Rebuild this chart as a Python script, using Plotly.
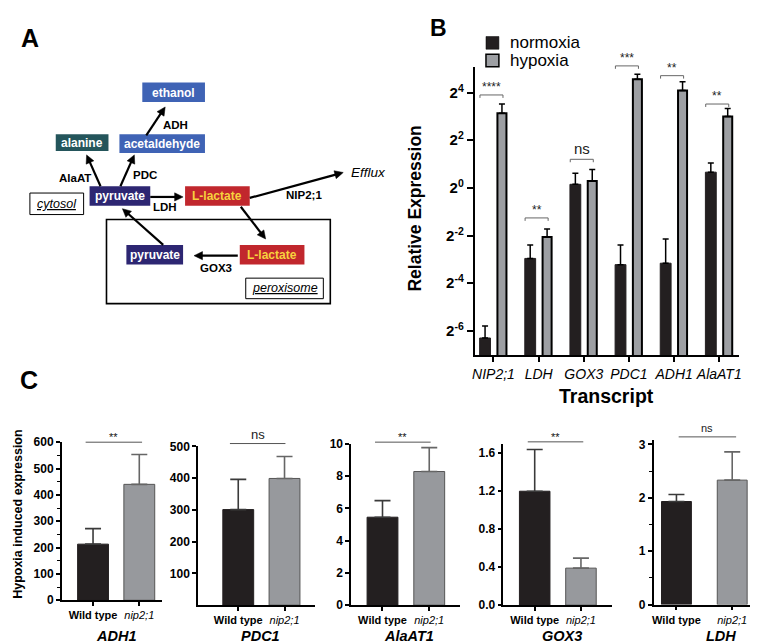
import numpy as np
import plotly.graph_objects as go

W, H = 758, 643
FONT = "Liberation Sans, Arial, Helvetica, sans-serif"

# ---------------- Panel B data (log2 relative expression) ----------------
transcripts = ["NIP2;1", "LDH", "GOX3", "PDC1", "ADH1", "AlaAT1"]
normoxia_log2 = [-6.30, -2.96, 0.15, -3.22, -3.16, 0.66]
normoxia_err_top_log2 = [-5.80, -2.40, 0.61, -2.40, -2.14, 1.04]
hypoxia_log2 = [3.13, -2.06, 0.29, 4.56, 4.09, 3.00]
hypoxia_err_top_log2 = [3.52, -1.72, 0.77, 4.77, 4.45, 3.33]
b_sig_labels = ["****", "**", "ns", "***", "**", "**"]
b_sig_level_log2 = [3.90, -1.26, 1.20, 5.12, 4.71, 3.52]
b_tick_exponents = [-6, -4, -2, 0, 2, 4]
b_series = ["normoxia", "hypoxia"]

# ---------------- Panel C data ----------------
genotypes = ["Wild type", "nip2;1"]
c_genes = ["ADH1", "PDC1", "AlaAT1", "GOX3", "LDH"]
wt_mean = [213, 301, 5.45, 1.20, 1.93]
wt_err = [59, 95, 1.03, 0.44, 0.13]
nip_mean = [440, 399, 8.28, 0.39, 2.33]
nip_err = [113, 69, 1.48, 0.105, 0.53]
c_sig = ["**", "ns", "**", "**", "ns"]
c_sig_level = [600, 509, 10.1, 1.72, 3.14]

# ---------------- helpers ----------------
def px(x):
    return x / W


def py(y):
    return 1 - y / H


def dom_x(x0, x1):
    return [x0 / W, x1 / W]


def dom_y(ytop, ybot):
    return [1 - ybot / H, 1 - ytop / H]


shapes = []
annotations = []


def txt(x, y, s, size=12, color="black", bold=False, italic=False, xanchor="center",
        yanchor="middle", angle=0):
    annotations.append(dict(
        x=px(x), y=py(y), xref="paper", yref="paper", text=s, showarrow=False,
        xanchor=xanchor, yanchor=yanchor, textangle=angle,
        font=dict(family=FONT, size=size, color=color,
                  weight="bold" if bold else "normal",
                  style="italic" if italic else "normal")))


def arrow(tx, ty, hx, hy, head_len=8.5, head_half=4.2, width=2.2):
    d = np.array([hx - tx, hy - ty], dtype=float)
    L = np.hypot(*d)
    u = d / L
    n = np.array([-u[1], u[0]])
    bx, by = hx - u[0] * head_len, hy - u[1] * head_len
    shapes.append(dict(type="line", xref="paper", yref="paper",
                       x0=px(tx), y0=py(ty), x1=px(bx + u[0] * 1.5), y1=py(by + u[1] * 1.5),
                       line=dict(color="black", width=width)))
    p1 = (bx + n[0] * head_half, by + n[1] * head_half)
    p2 = (bx - n[0] * head_half, by - n[1] * head_half)
    shapes.append(dict(type="path", xref="paper", yref="paper",
                       path=f"M {px(hx)},{py(hy)} L {px(p1[0])},{py(p1[1])} L {px(p2[0])},{py(p2[1])} Z",
                       fillcolor="black", line=dict(color="black", width=0.5)))


# ---------------- Panel A: pathway diagram ----------------
BLUE, TEAL, INDIGO, RED, YELLOW = "#3f63b5", "#24555b", "#2d2672", "#c1272d", "#f7d23e"
boxes = [
    ("ethanol", 133, 69, 196, 89, BLUE, "white"),
    ("alanine", 46, 122, 99, 139, TEAL, "white"),
    ("acetaldehyde", 110, 122, 196, 141, BLUE, "white"),
    ("pyruvate", 80, 175, 141, 195, INDIGO, "white"),
    ("L-lactate", 176, 175, 241, 195, RED, YELLOW),
    ("pyruvate", 117, 235, 174, 255, INDIGO, "white"),
    ("L-lactate", 231, 235, 296, 255, RED, YELLOW),
]
# peroxisome compartment
shapes.append(dict(type="rect", xref="paper", yref="paper", x0=px(97), x1=px(322),
                   y0=py(295), y1=py(209), line=dict(color="black", width=1.6)))
for name, x0, y0, x1, y1, fill, tc in boxes:
    shapes.append(dict(type="rect", xref="paper", yref="paper", x0=px(x0), x1=px(x1),
                       y0=py(y1), y1=py(y0), fillcolor=fill, line=dict(width=0)))
    txt((x0 + x1) / 2, (y0 + y1) / 2 + 0.5, name, size=12, color=tc, bold=True)
for name, x0, y0, x1, y1 in [("cytosol", 20, 182, 74, 204), ("peroxisome", 237, 269, 315, 290)]:
    shapes.append(dict(type="rect", xref="paper", yref="paper", x0=px(x0), x1=px(x1),
                       y0=py(y1), y1=py(y0), fillcolor="white", line=dict(color="black", width=1)))
    txt((x0 + x1) / 2, (y0 + y1) / 2, "<u>" + name + "</u>", size=12.5, italic=True)

arrows = [((137, 123), (156, 94)), ((91, 175), (77, 143)), ((111, 175), (125, 143)),
          ((141, 186), (174, 186)), ((241, 187), (335, 161)), ((232, 196), (257, 229)),
          ((154, 235), (113, 198)), ((229, 246), (185, 246))]
for (tx, ty), (hx, hy) in arrows:
    arrow(tx, ty, hx, hy)
for s, x, y in [("ADH", 166, 112), ("AlaAT", 65, 167), ("PDC", 136, 164), ("LDH", 156, 196),
                ("NIP2;1", 296, 184), ("GOX3", 207, 259)]:
    txt(x, y, s, size=11.5, bold=True)
txt(341, 161, "Efflux", size=13.5, italic=True, xanchor="left")

# panel letters
txt(20, 24, "A", size=25, bold=True)
txt(431, 13, "B", size=23, bold=True)
txt(19, 373, "C", size=25, bold=True)

# ---------------- Panel B ----------------
B_X0, B_X1, B_Y0, B_Y1 = 467, 733, 53, 348
b_xr = [-0.42, 5.44]
b_lr = [-7.03, 5.08]  # log2 range
L2 = np.log10(2)
B_FILL = ["#231f20", "#9d9fa3"]
B_LINE = ["#231f20", "black"]


def b_px(i):
    return B_X0 + (i - b_xr[0]) / (b_xr[1] - b_xr[0]) * (B_X1 - B_X0)


def b_py(l2):
    return B_Y1 - (l2 - b_lr[0]) / (b_lr[1] - b_lr[0]) * (B_Y1 - B_Y0)


norm_v = np.power(2.0, normoxia_log2)
hyp_v = np.power(2.0, hypoxia_log2)
norm_e = np.power(2.0, normoxia_err_top_log2) - norm_v
hyp_e = np.power(2.0, hypoxia_err_top_log2) - hyp_v

fig = go.Figure()
fig.add_trace(go.Bar(
    x=transcripts, y=norm_v, name=b_series[0], width=0.24, offset=-0.307, showlegend=False,
    marker=dict(color=B_FILL[0], line=dict(color=B_LINE[0], width=1)),
    error_y=dict(type="data", symmetric=False, array=norm_e, arrayminus=[0] * 6,
                 color="black", thickness=1.5, width=3),
    xaxis="x", yaxis="y"))
fig.add_trace(go.Bar(
    x=transcripts, y=hyp_v, name=b_series[1], width=0.2, offset=0.087, showlegend=False,
    marker=dict(color=B_FILL[1], line=dict(color=B_LINE[1], width=2)),
    error_y=dict(type="data", symmetric=False, array=hyp_e, arrayminus=[0] * 6,
                 color="black", thickness=1.5, width=3),
    xaxis="x", yaxis="y"))

# legend key for panel B
for j, name in enumerate(b_series):
    top = 22 + 18 * j
    shapes.append(dict(type="rect", xref="paper", yref="paper", x0=px(478.5), x1=px(491.5),
                       y0=py(top + 13), y1=py(top), fillcolor=B_FILL[j],
                       line=dict(color="black", width=1.5 if j else 0.5)))
    txt(501, top + 6.5, name, size=17, xanchor="left")

for i, (lab, lev) in enumerate(zip(b_sig_labels, b_sig_level_log2)):
    xa, xb, yy = b_px(i - 0.30), b_px(i + 0.21), b_py(lev)
    shapes.append(dict(type="path", xref="paper", yref="paper",
                       path=f"M {px(xa)},{py(yy + 3)} L {px(xa)},{py(yy)} L {px(xb)},{py(yy)} L {px(xb)},{py(yy + 3)}",
                       line=dict(color="#666", width=1)))
    if lab == "ns":
        txt((xa + xb) / 2, yy - 11, lab, size=15, color="#222")
    else:
        txt((xa + xb) / 2, yy - 8, lab, size=12, color="#222")

txt(407, 198, "Relative Expression", size=17.5, bold=True, angle=-90)
txt(600, 389, "Transcript", size=19.5, bold=True)

layout_axes = dict(
    xaxis=dict(domain=dom_x(B_X0, B_X1), range=b_xr, anchor="y", type="category",
               showline=True, linecolor="black", linewidth=1.5, ticks="outside",
               ticklen=5, tickwidth=1.5, tickcolor="black", showgrid=False, zeroline=False,
               tickfont=dict(family=FONT, size=14, color="black", style="italic")),
    yaxis=dict(domain=dom_y(B_Y0, B_Y1), type="log", range=[b_lr[0] * L2, b_lr[1] * L2],
               anchor="x", showline=True, linecolor="black", linewidth=1.5,
               ticks="outside", ticklen=6, tickwidth=1.5, tickcolor="black",
               tickvals=[2.0 ** e for e in b_tick_exponents],
               ticktext=[f"2<sup>{e}</sup>" for e in b_tick_exponents],
               showgrid=False, zeroline=False,
               tickfont=dict(family=FONT, size=15, color="black", weight="bold")),
)

# ---------------- Panel C ----------------
c_specs = [
    # x0, x1, ytop, ybot, xrange, yrange, tickvals, minor, barwidth
    (52, 153, 436.7, 598.3, [-0.677, 1.495], [0, 600], list(range(0, 601, 100)), 50, 0.667),
    (189, 307, 441, 603.3, [-0.87, 1.667], [0, 500], list(range(100, 501, 100)), None, 0.667),
    (343, 452, 438.3, 603.3, [-0.67, 1.65], [0, 10], list(range(0, 11, 2)), None, 0.66),
    (496, 605, 438.3, 603.3, [-0.677, 1.667], [0, 1.7], [0, 0.4, 0.8, 1.2, 1.6], None, 0.66),
    (647, 758, 434, 602.7, [-0.41, 1.57], [0, 3.09], [0, 1, 2, 3], 0.5, 0.536),
]
c_sig_x = [(-0.16, 1.06), (-0.18, 1.02), (-0.16, 1.03), (-0.15, 1.05), (0.04, 1.07)]

for k, (gene, spec) in enumerate(zip(c_genes, c_specs)):
    n = k + 2
    x0, x1, yt, yb, xr, yr, tv, minor, bw = spec
    fig.add_trace(go.Bar(
        x=[0], y=[wt_mean[k]], width=bw, showlegend=False,
        marker=dict(color="#231f20", line=dict(color="#231f20", width=1)),
        error_y=dict(type="data", symmetric=False, array=[wt_err[k]], arrayminus=[0],
                     color="#3a3a3a", thickness=1.6, width=8),
        xaxis=f"x{n}", yaxis=f"y{n}"))
    fig.add_trace(go.Bar(
        x=[1], y=[nip_mean[k]], width=bw, showlegend=False,
        marker=dict(color="#97999d", line=dict(color="#555", width=1)),
        error_y=dict(type="data", symmetric=False, array=[nip_err[k]], arrayminus=[0],
                     color="#666", thickness=1.6, width=8),
        xaxis=f"x{n}", yaxis=f"y{n}"))
    ya = dict(domain=dom_y(yt, yb), range=yr, anchor=f"x{n}", showline=True,
              linecolor="black", linewidth=1.5, ticks="outside", ticklen=4, tickwidth=1.5,
              tickcolor="black", tickvals=tv, showgrid=False, zeroline=False,
              tickfont=dict(family=FONT, size=12, color="black", weight="bold"))
    if gene == "GOX3":
        ya["ticktext"] = [f"{v:.1f}" for v in tv]
    if minor:
        ya["minor"] = dict(ticks="outside", dtick=minor, ticklen=3, tickwidth=1.2,
                           tickcolor="black", showgrid=False)
    layout_axes[f"yaxis{n}"] = ya
    layout_axes[f"xaxis{n}"] = dict(
        domain=dom_x(x0, x1), range=xr, anchor=f"y{n}", showline=True, linecolor="black",
        linewidth=1.5, ticks="outside", ticklen=4, tickwidth=1.5, tickcolor="black",
        tickvals=[0, 1], ticktext=[f"<b>{genotypes[0]}</b>", f"<i>{genotypes[1]}</i>"],
        showgrid=False, zeroline=False, tickfont=dict(family=FONT, size=11, color="black"))

    # data -> pixel for significance line
    def cx(v):
        return x0 + (v - xr[0]) / (xr[1] - xr[0]) * (x1 - x0)

    def cy(v):
        return yb - (v - yr[0]) / (yr[1] - yr[0]) * (yb - yt)

    sa, sb = c_sig_x[k]
    ly = cy(c_sig_level[k])
    shapes.append(dict(type="line", xref="paper", yref="paper", x0=px(cx(sa)), x1=px(cx(sb)),
                       y0=py(ly), y1=py(ly), line=dict(color="#555", width=1)))
    if c_sig[k] == "ns":
        txt((cx(sa) + cx(sb)) / 2, ly - 9, "ns", size=13 if gene == "PDC1" else 11, color="#222")
    else:
        txt((cx(sa) + cx(sb)) / 2, ly - 5, c_sig[k], size=11, color="#111")
    txt((x0 + x1) / 2 + (4 if gene != "LDH" else 12), 635, gene, size=14.5, bold=True, italic=True)

txt(8, 510, "Hypoxia induced expression", size=12.5, bold=True, angle=-90)

fig.update_layout(
    width=W, height=H, margin=dict(l=0, r=0, t=0, b=0),
    paper_bgcolor="white", plot_bgcolor="white",
    barmode="overlay",
    font=dict(family=FONT, color="black"),
    showlegend=False,
    shapes=shapes, annotations=annotations,
    **layout_axes)

fig.write_html("out.html")
